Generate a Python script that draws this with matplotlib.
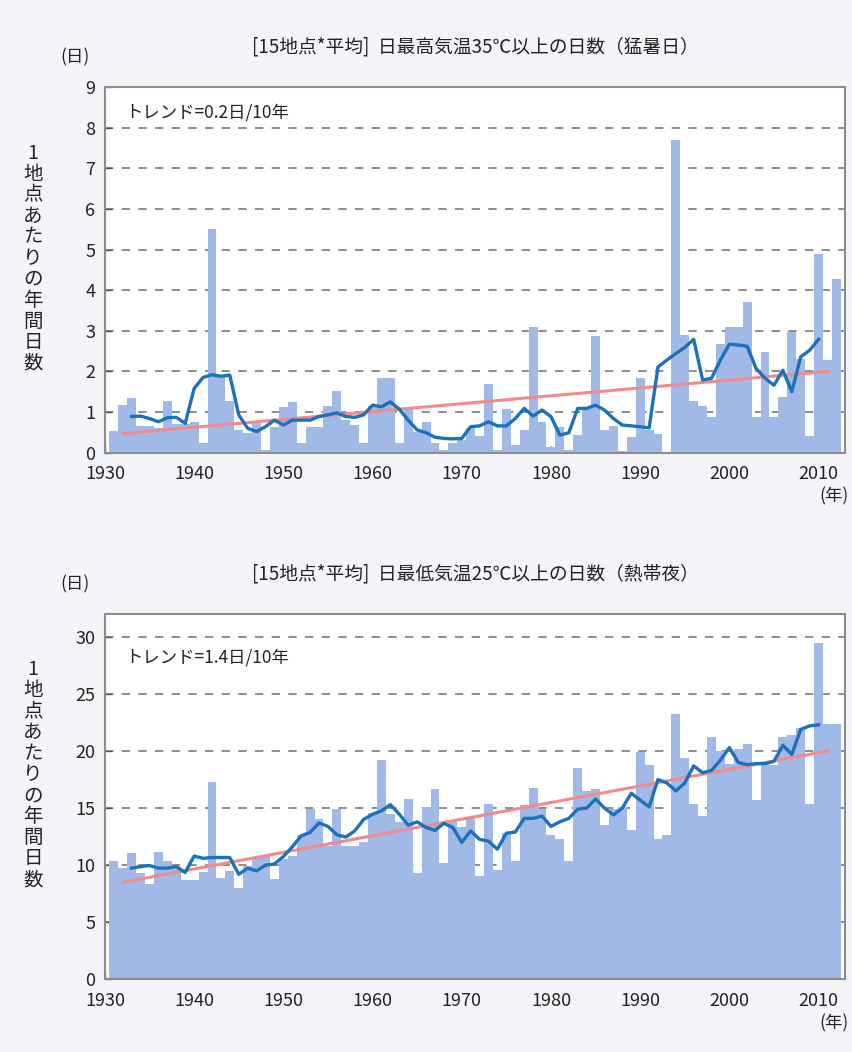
import matplotlib
matplotlib.use("Agg")
import matplotlib.pyplot as plt
import numpy as np

plt.rcParams['font.family'] = ['Noto Sans CJK JP', 'DejaVu Sans']

# ---- data ----
years = np.arange(1931, 2013)
ma_years = np.arange(1933, 2011)

hot_days = [0.54, 1.17, 1.35, 0.65, 0.66, 0.6, 1.27, 0.7, 0.7, 0.76,
            0.23, 5.5, 1.9, 1.27, 0.56, 0.48, 0.72, 0.07, 0.62, 1.13,
            1.25, 0.23, 0.64, 0.64, 1.15, 1.52, 0.8, 0.68, 0.23, 1.15,
            1.85, 1.85, 0.23, 1.07, 0.5, 0.75, 0.25, 0.07, 0.25, 0.3,
            0.6, 0.4, 1.68, 0.07, 1.07, 0.18, 0.56, 3.1, 0.76, 0.15,
            0.64, 0.07, 0.43, 1.13, 2.88, 0.56, 0.66, 0.03, 0.38, 1.84,
            0.56, 0.46, 0.0, 7.7, 2.9, 1.27, 1.15, 0.89, 2.68, 3.1,
            3.1, 3.7, 0.89, 2.48, 0.89, 1.38, 2.98, 2.3, 0.4, 4.9,
            2.27, 4.28]

hot_ma = [0.89, 0.9, 0.84, 0.76, 0.86, 0.87, 0.72, 1.58, 1.85, 1.92,
          1.88, 1.91, 0.93, 0.6, 0.52, 0.64, 0.8, 0.68, 0.8, 0.8,
          0.8, 0.89, 0.93, 0.98, 0.89, 0.87, 0.93, 1.17, 1.13, 1.25,
          1.07, 0.8, 0.56, 0.49, 0.38, 0.35, 0.34, 0.35, 0.64, 0.66,
          0.76, 0.66, 0.66, 0.84, 1.09, 0.9, 1.05, 0.89, 0.43, 0.49,
          1.09, 1.09, 1.17, 1.05, 0.84, 0.68, 0.66, 0.64, 0.61, 2.11,
          2.28, 2.44, 2.59, 2.79, 1.79, 1.83, 2.28, 2.67, 2.65, 2.62,
          2.07, 1.83, 1.66, 2.03, 1.5, 2.36, 2.52, 2.79]

hot_trend_x = [1932, 2011]
hot_trend_y = [0.47, 2.0]

night_days = [10.4, 9.74, 11.05, 9.3, 8.36, 11.14, 10.4, 9.88, 8.7, 8.7,
              9.4, 17.3, 8.86, 9.5, 8.04, 9.94, 10.6, 10.76, 8.77, 10.5,
              10.76, 12.66, 14.9, 14.06, 11.7, 14.9, 11.7, 11.7, 12.0, 14.6,
              19.2, 14.46, 13.8, 15.8, 9.27, 15.1, 16.7, 10.2, 13.9, 13.3,
              14.2, 9.03, 15.4, 9.6, 12.8, 10.35, 15.25, 16.8, 14.9, 12.6,
              12.3, 10.35, 18.5, 16.5, 16.7, 13.5, 14.9, 15.1, 13.1, 19.9,
              18.8, 12.3, 12.6, 23.2, 19.4, 15.4, 14.3, 21.2, 20.0, 18.9,
              20.2, 20.6, 15.7, 18.9, 18.8, 21.2, 21.4, 22.0, 15.4, 29.5,
              22.4, 22.4]

night_ma = [9.74, 9.88, 9.97, 9.74, 9.74, 9.88, 9.36, 10.8, 10.6, 10.67,
            10.67, 10.67, 9.2, 9.74, 9.5, 10.0, 10.1, 10.76, 11.6, 12.57,
            12.87, 13.7, 13.4, 12.66, 12.46, 13.0, 14.0, 14.46, 14.75, 15.3,
            14.46, 13.5, 13.8, 13.3, 13.05, 13.66, 13.3, 12.0, 13.0, 12.26,
            12.1, 11.4, 12.8, 12.9, 14.1, 14.1, 14.3, 13.4, 13.8, 14.1,
            14.9, 15.0, 15.8, 15.0, 14.4, 15.0, 16.3, 15.7, 15.1, 17.5,
            17.2, 16.5, 17.2, 18.7, 18.1, 18.3, 19.2, 20.3, 19.0, 18.8,
            18.9, 18.9, 19.1, 20.5, 19.7, 21.9, 22.2, 22.3]

night_trend_x = [1932, 2011]
night_trend_y = [8.5, 20.0]

panels = [
    dict(title="[15地点*平均]  日最高気温35℃以上の日数（猛暑日）",
         bars=hot_days, ma=hot_ma, tx=hot_trend_x, ty=hot_trend_y,
         note="トレンド=0.2日/10年", ymax=9, yticks=np.arange(0, 10, 1),
         rect=[0.123, 0.5697, 0.868, 0.3476], note_y=0.93, lab_y=0.532),
    dict(title="[15地点*平均]  日最低気温25℃以上の日数（熱帯夜）",
         bars=night_days, ma=night_ma, tx=night_trend_x, ty=night_trend_y,
         note="トレンド=1.4日/10年", ymax=32, yticks=np.arange(0, 31, 5),
         rect=[0.123, 0.0691, 0.868, 0.3472], note_y=0.882, lab_y=0.56),
]

bar_color = '#a0b9e6'
line_color = '#1a72bd'
trend_color = '#f28a8a'
frame_color = '#8c8c8c'

fig = plt.figure(figsize=(8.53, 10.52), dpi=100)
fig.patch.set_facecolor('#f3f5f8')

ylabel = "\n".join("1地点あたりの年間日数")

for p in panels:
    ax = fig.add_axes(p['rect'])
    ax.set_facecolor('white')
    ax.bar(years, p['bars'], width=1.0, color=bar_color, linewidth=0, zorder=2)
    ax.plot(p['tx'], p['ty'], color=trend_color, lw=2.2, zorder=3)
    ax.plot(ma_years, p['ma'], color=line_color, lw=2.4, zorder=4)

    ax.set_xlim(1930, 2013)
    ax.set_ylim(0, p['ymax'])
    ax.set_xticks(np.arange(1930, 2011, 10))
    ax.set_yticks(p['yticks'])
    ax.tick_params(direction='in', length=5, width=1, colors='#555555',
                   labelcolor='#222222', labelsize=13)
    ax.tick_params(axis='x', pad=9)
    ax.tick_params(axis='y', pad=7)
    ax.yaxis.grid(True, linestyle=(0, (5, 5)), color='#7a7a7a', lw=1.2)
    ax.set_axisbelow(True)
    for s in ax.spines.values():
        s.set_color(frame_color)
        s.set_linewidth(1.5)

    ax.text(0.027, p['note_y'], p['note'], transform=ax.transAxes,
            fontsize=12.5, color='#222222', va='center', ha='left')

    # title, units
    ax.text(0.5, 1.0 + 40 / 365.0, p['title'], transform=ax.transAxes,
            fontsize=13.5, ha='center', va='center', color='#222222')
    ax.text(-0.04, 1.0 + 30 / 365.0, "(日)", transform=ax.transAxes,
            fontsize=12.5, ha='center', va='center', color='#222222')
    ax.text(0.985, -44 / 365.0, "(年)", transform=ax.transAxes,
            fontsize=12.5, ha='center', va='center', color='#222222')
    ax.text(-0.097, p['lab_y'], ylabel, transform=ax.transAxes,
            fontsize=14, ha='center', va='center', color='#222222',
            linespacing=1.0)

fig.savefig('out.png', dpi=100, facecolor=fig.get_facecolor())
